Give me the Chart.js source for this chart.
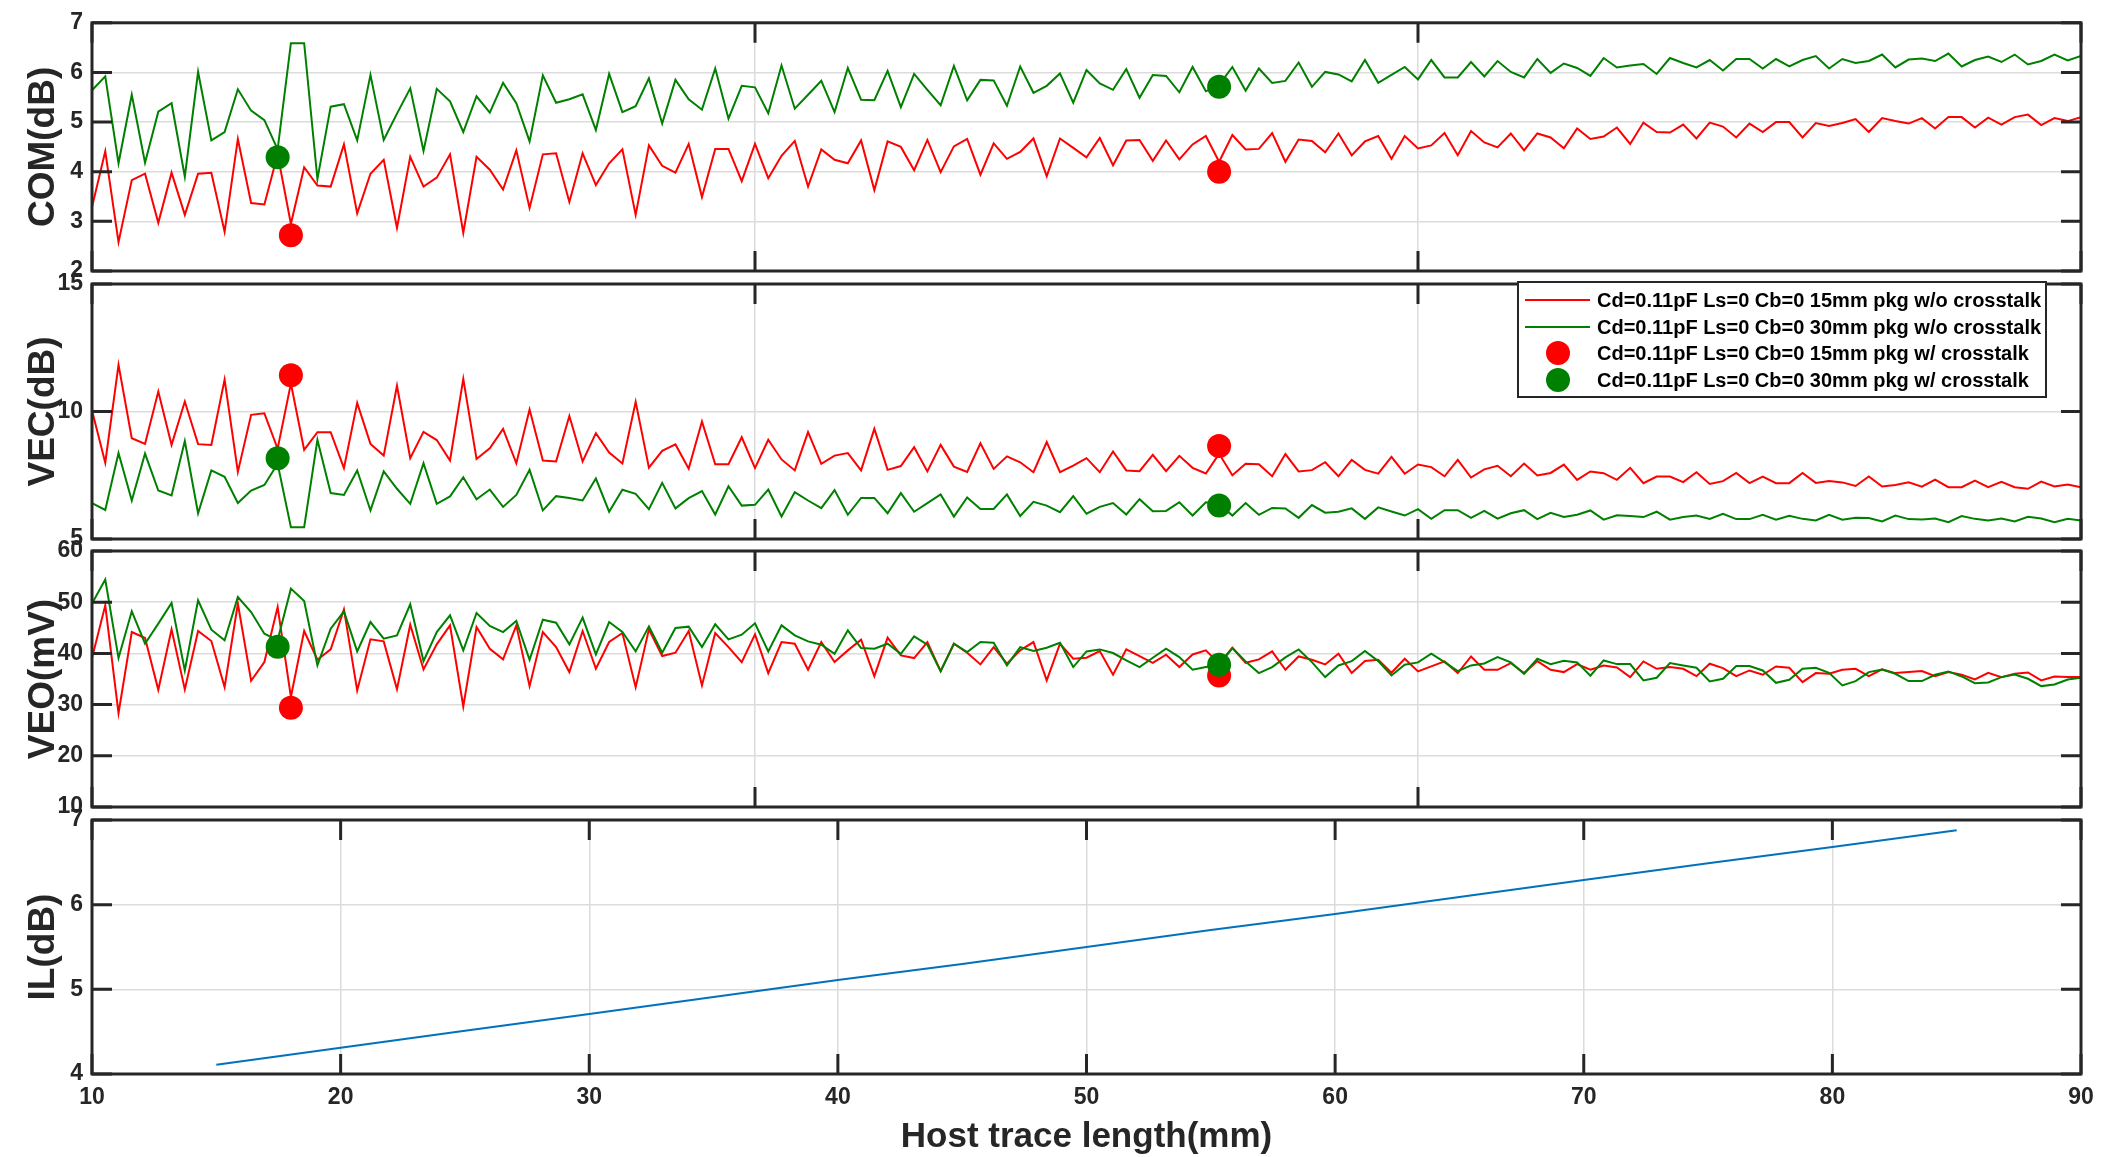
<!DOCTYPE html>
<html>
<head>
<meta charset="utf-8">
<script src="https://cdn.jsdelivr.net/npm/chart.js@4.4.1/dist/chart.umd.min.js"></script>
<style>
  html, body { margin: 0; padding: 0; background: #fff; }
  #wrap { position: relative; width: 2112px; height: 1157px; }
  #wrap canvas { position: absolute; left: 0; top: 0; }
</style>
</head>
<body>
<div id="wrap">
  <canvas id="comChart" width="2112" height="1157"></canvas>
  <canvas id="vecChart" width="2112" height="1157"></canvas>
  <canvas id="veoChart" width="2112" height="1157"></canvas>
  <canvas id="ilChart" width="2112" height="1157"></canvas>
</div>
<script>
// sweep points of the top three panels (index 0..150)
const sweepIndex = Array.from({ length: 151 }, (_, i) => i);

// COM(dB)
const com15 = [
  3.29, 4.41, 2.58, 3.83, 3.96, 2.97, 3.98, 3.13, 3.96, 3.98,
  2.79, 4.66, 3.37, 3.34, 4.35, 2.95, 4.09, 3.72, 3.70, 4.55,
  3.16, 3.96, 4.24, 2.87, 4.30, 3.70, 3.88, 4.35, 2.77, 4.30,
  4.04, 3.64, 4.43, 3.27, 4.35, 4.37, 3.39, 4.37, 3.73, 4.17,
  4.45, 3.13, 4.53, 4.12, 3.98, 4.56, 3.49, 4.46, 4.46, 3.81,
  4.56, 3.87, 4.32, 4.62, 3.70, 4.45, 4.24, 4.17, 4.63, 3.63,
  4.61, 4.50, 4.03, 4.64, 3.99, 4.51, 4.66, 3.94, 4.57, 4.26,
  4.40, 4.67, 3.91, 4.67, 4.48, 4.29, 4.68, 4.13, 4.63, 4.64,
  4.22, 4.63, 4.25, 4.55, 4.72, 4.20, 4.74, 4.45, 4.46, 4.78,
  4.20, 4.65, 4.62, 4.39, 4.77, 4.33, 4.61, 4.72, 4.26, 4.72,
  4.47, 4.53, 4.78, 4.33, 4.82, 4.59, 4.49, 4.77, 4.43, 4.77,
  4.69, 4.47, 4.87, 4.66, 4.71, 4.89, 4.56, 4.99, 4.80, 4.79,
  4.95, 4.67, 4.99, 4.91, 4.69, 4.97, 4.80, 5.00, 5.00, 4.69,
  4.98, 4.92, 4.98, 5.06, 4.80, 5.08, 5.02, 4.97, 5.08, 4.87,
  5.10, 5.10, 4.89, 5.09, 4.95, 5.10, 5.15, 4.94, 5.08, 5.02, 5.10
];
const com30 = [
  5.64, 5.92, 4.17, 5.55, 4.18, 5.21, 5.38, 3.90, 6.01, 4.63,
  4.80, 5.66, 5.23, 5.04, 4.45, 6.59, 6.59, 3.85, 5.31, 5.36,
  4.63, 5.95, 4.64, 5.17, 5.68, 4.42, 5.67, 5.42, 4.80, 5.52,
  5.19, 5.79, 5.38, 4.61, 5.94, 5.39, 5.46, 5.56, 4.84, 5.97,
  5.20, 5.32, 5.88, 4.97, 5.85, 5.46, 5.25, 6.08, 5.07, 5.73,
  5.70, 5.18, 6.14, 5.27, 5.55, 5.83, 5.20, 6.09, 5.45, 5.44,
  6.03, 5.30, 5.97, 5.65, 5.34, 6.13, 5.44, 5.85, 5.84, 5.33,
  6.12, 5.59, 5.73, 5.98, 5.39, 6.05, 5.78, 5.65, 6.07, 5.49,
  5.95, 5.93, 5.60, 6.11, 5.62, 5.75, 6.11, 5.63, 6.08, 5.79,
  5.83, 6.20, 5.71, 6.01, 5.96, 5.82, 6.25, 5.79, 5.95, 6.11,
  5.86, 6.25, 5.90, 5.90, 6.21, 5.92, 6.23, 6.01, 5.90, 6.27,
  5.99, 6.18, 6.09, 5.93, 6.29, 6.10, 6.14, 6.17, 5.97, 6.29,
  6.19, 6.10, 6.25, 6.04, 6.27, 6.27, 6.08, 6.27, 6.12, 6.25,
  6.33, 6.08, 6.27, 6.19, 6.23, 6.36, 6.10, 6.26, 6.28, 6.23,
  6.38, 6.12, 6.25, 6.32, 6.21, 6.36, 6.16, 6.23, 6.36, 6.24, 6.33
];

// VEC(dB)
const vec15 = [
  10.04, 7.99, 11.83, 8.95, 8.73, 10.78, 8.69, 10.39, 8.72, 8.69,
  11.25, 7.63, 9.87, 9.93, 8.54, 11.10, 8.50, 9.19, 9.19, 7.78,
  10.34, 8.73, 8.27, 11.01, 8.17, 9.20, 8.88, 8.08, 11.28, 8.14,
  8.56, 9.32, 7.97, 10.08, 8.08, 8.04, 9.82, 8.04, 9.15, 8.39,
  7.96, 10.38, 7.80, 8.46, 8.71, 7.76, 9.61, 7.93, 7.93, 8.99,
  7.78, 8.89, 8.12, 7.69, 9.19, 7.95, 8.27, 8.37, 7.69, 9.32,
  7.71, 7.86, 8.60, 7.65, 8.69, 7.84, 7.63, 8.75, 7.75, 8.24,
  8.01, 7.62, 8.80, 7.62, 7.88, 8.17, 7.62, 8.43, 7.69, 7.66,
  8.30, 7.66, 8.26, 7.79, 7.57, 8.34, 7.50, 7.95, 7.93, 7.46,
  8.33, 7.65, 7.70, 8.01, 7.46, 8.10, 7.71, 7.56, 8.22, 7.56,
  7.92, 7.82, 7.46, 8.10, 7.41, 7.73, 7.87, 7.46, 7.96, 7.49,
  7.59, 7.92, 7.32, 7.65, 7.58, 7.32, 7.79, 7.19, 7.45, 7.45,
  7.23, 7.62, 7.16, 7.27, 7.59, 7.19, 7.45, 7.19, 7.19, 7.59,
  7.20, 7.27, 7.22, 7.08, 7.45, 7.06, 7.12, 7.22, 7.05, 7.33,
  7.03, 7.03, 7.29, 7.03, 7.24, 7.03, 6.97, 7.25, 7.06, 7.14, 7.03
];
const vec30 = [
  6.41, 6.14, 8.37, 6.51, 8.35, 6.90, 6.71, 8.84, 6.01, 7.69,
  7.44, 6.41, 6.90, 7.12, 7.95, 5.46, 5.46, 8.89, 6.80, 6.73,
  7.69, 6.12, 7.65, 6.97, 6.38, 7.97, 6.38, 6.67, 7.42, 6.56,
  6.94, 6.26, 6.73, 7.71, 6.12, 6.68, 6.61, 6.51, 7.37, 6.07,
  6.93, 6.77, 6.17, 7.20, 6.20, 6.60, 6.88, 5.96, 7.07, 6.31,
  6.34, 6.94, 5.88, 6.84, 6.51, 6.21, 6.92, 5.95, 6.61, 6.61,
  6.01, 6.80, 6.07, 6.41, 6.75, 5.88, 6.63, 6.18, 6.18, 6.75,
  5.90, 6.46, 6.31, 6.05, 6.68, 5.99, 6.26, 6.41, 5.96, 6.56,
  6.09, 6.10, 6.44, 5.92, 6.44, 6.38, 5.92, 6.41, 5.95, 6.22,
  6.20, 5.83, 6.33, 6.03, 6.07, 6.20, 5.79, 6.24, 6.08, 5.92,
  6.17, 5.79, 6.13, 6.13, 5.83, 6.10, 5.80, 6.01, 6.13, 5.78,
  6.03, 5.86, 5.95, 6.12, 5.76, 5.93, 5.90, 5.86, 6.07, 5.76,
  5.86, 5.92, 5.79, 5.99, 5.78, 5.78, 5.95, 5.76, 5.91, 5.79,
  5.73, 5.95, 5.76, 5.83, 5.82, 5.69, 5.92, 5.78, 5.76, 5.80,
  5.66, 5.90, 5.79, 5.73, 5.80, 5.69, 5.87, 5.80, 5.66, 5.79, 5.73
];

// VEO(mV)
const veo15 = [
  39.09, 49.39, 28.32, 44.17, 43.00, 32.89, 44.70, 32.96, 44.37, 42.41,
  33.41, 49.72, 34.65, 38.30, 49.07, 31.50, 44.37, 38.76, 40.78, 48.61,
  32.76, 42.74, 42.35, 33.02, 45.61, 36.87, 41.76, 45.48, 29.63, 45.15,
  40.91, 38.83, 45.48, 33.61, 44.17, 41.24, 36.35, 44.37, 37.00, 42.22,
  43.98, 33.41, 44.70, 39.48, 40.13, 44.37, 33.74, 43.98, 41.24, 38.30,
  43.72, 36.15, 42.22, 41.89, 36.80, 42.22, 38.30, 40.59, 42.67, 35.56,
  43.07, 39.61, 39.09, 42.22, 36.54, 41.89, 40.13, 37.85, 41.24, 37.98,
  40.59, 42.22, 34.72, 41.89, 38.96, 39.15, 40.46, 35.83, 40.78, 39.48,
  38.17, 39.74, 37.33, 39.80, 40.59, 38.00, 41.11, 38.17, 38.83, 40.39,
  36.80, 39.41, 38.76, 37.85, 39.93, 36.15, 38.50, 38.76, 36.22, 38.96,
  36.48, 37.46, 38.43, 36.15, 39.41, 36.80, 36.80, 38.11, 36.15, 38.50,
  36.80, 36.35, 37.91, 36.80, 37.65, 37.26, 35.37, 38.43, 37.00, 37.33,
  37.00, 35.56, 37.98, 37.13, 35.56, 36.67, 35.83, 37.46, 37.20, 34.39,
  36.15, 36.02, 36.80, 37.00, 35.56, 36.87, 36.15, 36.35, 36.54, 35.56,
  36.35, 35.83, 34.91, 36.22, 35.37, 36.02, 36.28, 34.72, 35.50, 35.37, 35.37
];
const veo30 = [
  49.72, 54.42, 39.09, 48.22, 41.89, 45.81, 49.85, 36.67, 50.37, 44.63,
  42.54, 51.02, 48.09, 43.85, 42.60, 52.65, 50.24, 37.65, 44.83, 48.22,
  40.39, 46.13, 42.87, 43.52, 49.59, 38.50, 44.17, 47.44, 40.59, 47.89,
  45.35, 44.17, 46.33, 38.76, 46.59, 46.00, 41.76, 46.98, 39.80, 46.13,
  44.17, 40.39, 45.28, 40.13, 44.96, 45.22, 41.24, 45.68, 42.74, 43.65,
  45.87, 40.39, 45.48, 43.52, 42.35, 41.70, 39.93, 44.50, 41.04, 40.91,
  41.89, 39.93, 43.33, 41.70, 36.54, 41.89, 40.26, 42.22, 42.09, 37.65,
  41.24, 40.46, 41.11, 42.09, 37.33, 40.39, 40.78, 40.07, 38.63, 37.33,
  39.15, 40.91, 39.28, 36.80, 37.33, 37.65, 41.04, 38.43, 36.15, 37.33,
  39.22, 40.78, 38.30, 35.37, 37.65, 38.50, 40.46, 38.50, 35.69, 37.78,
  38.24, 39.93, 38.30, 36.54, 37.65, 38.04, 39.28, 38.24, 36.02, 38.96,
  37.91, 38.56, 38.24, 35.63, 38.63, 37.91, 37.91, 34.72, 35.24, 38.11,
  37.65, 37.20, 34.52, 35.04, 37.52, 37.52, 36.67, 34.26, 34.85, 37.00,
  37.20, 36.22, 33.74, 34.59, 36.35, 36.87, 36.02, 34.59, 34.59, 35.83,
  36.48, 35.50, 34.19, 34.33, 35.37, 35.89, 35.04, 33.61, 33.93, 34.91, 35.24
];

// w/ crosstalk points
const xtIndex15 = [15, 85];
const xtIndex30 = [14, 85];
const xtCom15 = [2.72, 4.00];
const xtCom30 = [4.29, 5.71];
const xtVec15 = [11.42, 8.65];
const xtVec30 = [8.17, 6.31];
const xtVeo15 = [29.4, 35.7];
const xtVeo30 = [41.3, 37.8];

// IL vs host trace length
const traceLen = [15, 20, 25, 30, 35, 40, 45, 50, 55, 60, 65, 70, 75, 80, 85];
const ilValues = [4.11, 4.31, 4.51, 4.71, 4.91, 5.11, 5.30, 5.50, 5.70, 5.89, 6.09, 6.29, 6.49, 6.68, 6.88];

const legendLabels = [
  'Cd=0.11pF Ls=0 Cb=0 15mm pkg w/o crosstalk',
  'Cd=0.11pF Ls=0 Cb=0 30mm pkg w/o crosstalk',
  'Cd=0.11pF Ls=0 Cb=0 15mm pkg w/ crosstalk',
  'Cd=0.11pF Ls=0 Cb=0 30mm pkg w/ crosstalk'
];

const PAGE_W = 2112, PAGE_H = 1157;
const PLOT_LEFT = 92, PLOT_RIGHT = 2081;
const TICK_LEN = 20;
const INK = '#262626';
const GRID = '#dcdcdc';
const RED = '#ff0000', GREEN = '#008000', BLUE = '#0072bd';
const FONT = "'Liberation Sans', Arial, Helvetica, sans-serif";

Chart.defaults.font.family = FONT;
Chart.defaults.color = INK;

function toPoints(xs, ys) {
  return xs.map((x, i) => ({ x: x, y: ys[i] }));
}

// box round the plot area plus MATLAB style inward ticks
const panelFrame = {
  id: 'panelFrame',
  afterDatasetsDraw(chart) {
    const { ctx, chartArea: a, scales } = chart;
    ctx.save();
    ctx.strokeStyle = INK;
    ctx.lineWidth = 3;
    ctx.beginPath();
    scales.y.ticks.forEach(function (t) {
      const py = scales.y.getPixelForValue(t.value);
      ctx.moveTo(a.left, py); ctx.lineTo(a.left + TICK_LEN, py);
      ctx.moveTo(a.right, py); ctx.lineTo(a.right - TICK_LEN, py);
    });
    scales.x.ticks.forEach(function (t) {
      const px = scales.x.getPixelForValue(t.value);
      ctx.moveTo(px, a.top); ctx.lineTo(px, a.top + TICK_LEN);
      ctx.moveTo(px, a.bottom); ctx.lineTo(px, a.bottom - TICK_LEN);
    });
    ctx.stroke();
    ctx.strokeRect(a.left, a.top, a.right - a.left, a.bottom - a.top);
    ctx.restore();
  }
};

// legend box inside the VEC panel
const boxLegend = {
  id: 'boxLegend',
  afterDraw(chart) {
    const ctx = chart.ctx;
    const box = { left: 1518, top: 282, width: 528, height: 115 };
    const rowY = [300, 327, 353, 380];
    ctx.save();
    ctx.fillStyle = '#fff';
    ctx.fillRect(box.left, box.top, box.width, box.height);
    ctx.strokeStyle = INK;
    ctx.lineWidth = 2;
    ctx.strokeRect(box.left, box.top, box.width, box.height);
    ctx.font = 'bold 20px ' + FONT;
    ctx.textBaseline = 'middle';
    ctx.textAlign = 'left';
    const items = chart.data.datasets.slice().sort((p, q) => p.legendRank - q.legendRank);
    items.forEach(function (ds, i) {
      const y = rowY[i];
      if (ds.showLine === false) {
        ctx.fillStyle = ds.pointBackgroundColor;
        ctx.beginPath();
        ctx.arc(1558, y, 12, 0, Math.PI * 2);
        ctx.fill();
      } else {
        ctx.strokeStyle = ds.borderColor;
        ctx.lineWidth = 2;
        ctx.beginPath();
        ctx.moveTo(1525, y); ctx.lineTo(1590, y);
        ctx.stroke();
      }
      ctx.fillStyle = '#000';
      ctx.fillText(ds.label, 1597, y + 1);
    });
    ctx.restore();
  }
};

function sweepDatasets(noXt15, noXt30, xt15, xt30) {
  return [
    { label: legendLabels[3], legendRank: 3, data: toPoints(xtIndex30, xt30), showLine: false,
      pointRadius: 12, pointBackgroundColor: GREEN, pointBorderWidth: 0, order: 0 },
    { label: legendLabels[2], legendRank: 2, data: toPoints(xtIndex15, xt15), showLine: false,
      pointRadius: 12, pointBackgroundColor: RED, pointBorderWidth: 0, order: 1 },
    { label: legendLabels[1], legendRank: 1, data: toPoints(sweepIndex, noXt30), borderColor: GREEN,
      borderWidth: 2, pointRadius: 0, order: 2 },
    { label: legendLabels[0], legendRank: 0, data: toPoints(sweepIndex, noXt15), borderColor: RED,
      borderWidth: 2, pointRadius: 0, order: 3 }
  ];
}

function yAxis(title, min, max, step) {
  return {
    min: min, max: max,
    ticks: { stepSize: step, padding: 9, color: INK, font: { size: 23, weight: 'bold' } },
    grid: { color: GRID, lineWidth: 1.5, drawTicks: false },
    border: { display: false },
    title: { display: true, text: title, color: INK, font: { size: 37, weight: 'bold' }, padding: { top: 22, bottom: 0 } },
    afterFit: function (s) { s.width = PLOT_LEFT; }
  };
}

function makeSweepPanel(id, top, bottom, title, yMin, yMax, yStep, datasets, extra) {
  return new Chart(document.getElementById(id).getContext('2d'), {
    type: 'line',
    data: { datasets: datasets },
    options: {
      responsive: false, animation: false, devicePixelRatio: 1,
      layout: { padding: { left: 0, right: PAGE_W - PLOT_RIGHT, top: top, bottom: PAGE_H - bottom } },
      plugins: { legend: { display: false }, tooltip: { enabled: false } },
      scales: {
        x: {
          type: 'linear', min: 0, max: 150,
          ticks: { stepSize: 50, display: false },
          grid: { color: GRID, lineWidth: 1.5, drawTicks: false },
          border: { display: false },
          afterFit: function (s) { s.height = 0; }
        },
        y: yAxis(title, yMin, yMax, yStep)
      }
    },
    plugins: [panelFrame].concat(extra || [])
  });
}

makeSweepPanel('comChart', 15, 271, 'COM(dB)', 2, 7, 1, sweepDatasets(com15, com30, xtCom15, xtCom30));
makeSweepPanel('vecChart', 284, 539, 'VEC(dB)', 5, 15, 5, sweepDatasets(vec15, vec30, xtVec15, xtVec30), [boxLegend]);
makeSweepPanel('veoChart', 551, 807, 'VEO(mV)', 10, 60, 10, sweepDatasets(veo15, veo30, xtVeo15, xtVeo30));

new Chart(document.getElementById('ilChart').getContext('2d'), {
  type: 'line',
  data: {
    datasets: [{ label: 'IL', data: toPoints(traceLen, ilValues), borderColor: BLUE, borderWidth: 2, pointRadius: 0 }]
  },
  options: {
    responsive: false, animation: false, devicePixelRatio: 1,
    layout: { padding: { left: 0, right: PAGE_W - PLOT_RIGHT, top: 820, bottom: 0 } },
    plugins: { legend: { display: false }, tooltip: { enabled: false } },
    scales: {
      x: {
        type: 'linear', min: 10, max: 90,
        ticks: { stepSize: 10, padding: 10, color: INK, font: { size: 23, weight: 'bold' }, maxRotation: 0 },
        grid: { color: GRID, lineWidth: 1.5, drawTicks: false },
        border: { display: false },
        title: { display: true, text: 'Host trace length(mm)', color: INK, font: { size: 35, weight: 'bold', lineHeight: 1.1 }, padding: 0 },
        afterFit: function (s) { s.height = PAGE_H - 1074; }
      },
      y: yAxis('IL(dB)', 4, 7, 1)
    }
  },
  plugins: [panelFrame]
});
</script>
</body>
</html>
